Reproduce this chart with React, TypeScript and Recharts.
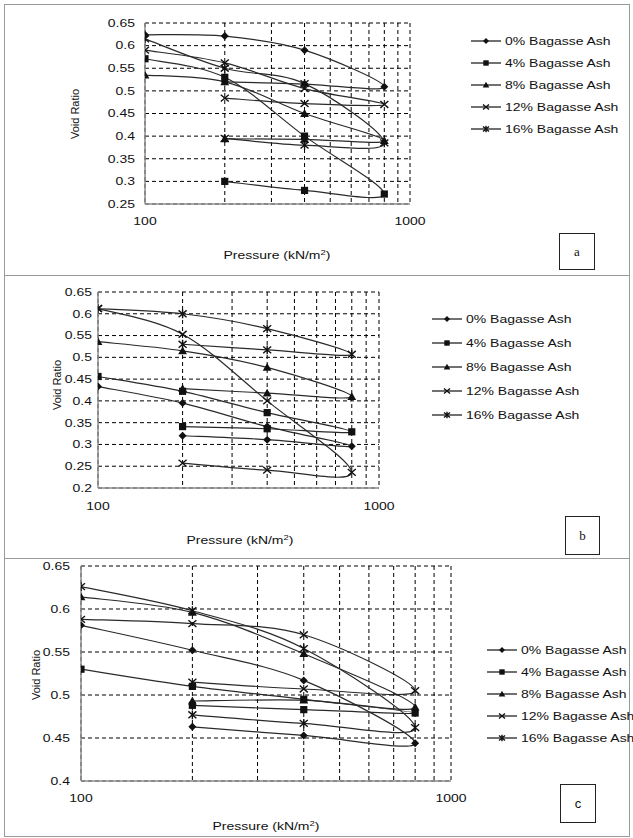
import React from 'react';
import { LineChart, Line, XAxis, YAxis, CartesianGrid, Legend } from 'recharts';

// loading 100 -> 800, then unloading back to 200
const pressure = [100, 200, 400, 800, 400, 200];
const xTicks = [100, 200, 300, 400, 500, 600, 700, 800, 900, 1000];
const xLabelled = [100, 1000];
const seriesNames = ['0% Bagasse Ash', '4% Bagasse Ash', '8% Bagasse Ash', '12% Bagasse Ash', '16% Bagasse Ash'];
const markerKinds = ['diamond', 'square', 'triangle', 'cross', 'star'];

// panel a
const a0 = [0.624, 0.621, 0.59, 0.509, 0.515, 0.52];
const a4 = [0.571, 0.53, 0.4, 0.272, 0.28, 0.3];
const a8 = [0.535, 0.52, 0.45, 0.39, 0.393, 0.394];
const a12 = [0.59, 0.562, 0.505, 0.47, 0.472, 0.484];
const a16 = [0.615, 0.55, 0.516, 0.385, 0.38, 0.395];
const yTicksA = [0.25, 0.3, 0.35, 0.4, 0.45, 0.5, 0.55, 0.6, 0.65];

// panel b
const b0 = [0.433, 0.395, 0.341, 0.296, 0.311, 0.32];
const b4 = [0.456, 0.422, 0.373, 0.329, 0.336, 0.341];
const b8 = [0.536, 0.515, 0.477, 0.41, 0.418, 0.428];
const b12 = [0.612, 0.553, 0.4, 0.236, 0.241, 0.257];
const b16 = [0.612, 0.6, 0.566, 0.507, 0.517, 0.53];
const yTicksB = [0.2, 0.25, 0.3, 0.35, 0.4, 0.45, 0.5, 0.55, 0.6, 0.65];

// panel c
const c0 = [0.581, 0.552, 0.517, 0.444, 0.453, 0.463];
const c4 = [0.53, 0.51, 0.495, 0.479, 0.483, 0.488];
const c8 = [0.614, 0.596, 0.548, 0.486, 0.494, 0.493];
const c12 = [0.588, 0.583, 0.57, 0.505, 0.507, 0.515];
const c16 = [0.626, 0.598, 0.554, 0.462, 0.467, 0.477];
const yTicksC = [0.4, 0.45, 0.5, 0.55, 0.6, 0.65];

const FONT = '"Liberation Sans", Arial, sans-serif';
const INK = '#111';
const STRETCH = 1.27;

const toData = (vals: number[]) => vals.map((e, i) => ({ p: pressure[i], e }));
const fmt = (v: number) => String(+v.toFixed(2));

// Excel-like smoothed line (Catmull-Rom through the points)
function smooth(context: any) {
  let pts: number[][] = [];
  return {
    areaStart() {},
    areaEnd() {},
    lineStart() { pts = []; },
    point(x: number, y: number) { pts.push([+x, +y]); },
    lineEnd() {
      if (!pts.length) return;
      context.moveTo(pts[0][0], pts[0][1]);
      const t = 1 / 6;
      for (let i = 0; i < pts.length - 1; i++) {
        const p0 = pts[i - 1] || pts[i];
        const p1 = pts[i];
        const p2 = pts[i + 1];
        const p3 = pts[i + 2] || p2;
        context.bezierCurveTo(
          p1[0] + (p2[0] - p0[0]) * t, p1[1] + (p2[1] - p0[1]) * t,
          p2[0] - (p3[0] - p1[0]) * t, p2[1] - (p3[1] - p1[1]) * t,
          p2[0], p2[1],
        );
      }
    },
  };
}

function Marker({ kind, cx, cy, s = 1 }: { kind: string; cx: number; cy: number; s?: number }) {
  if (cx == null || cy == null) return null;
  const r = 4 * s;
  switch (kind) {
    case 'diamond':
      return <polygon points={`${cx},${cy - r} ${cx + r},${cy} ${cx},${cy + r} ${cx - r},${cy}`} fill={INK} />;
    case 'square':
      return <rect x={cx - 0.9 * r} y={cy - 0.9 * r} width={1.8 * r} height={1.8 * r} fill={INK} />;
    case 'triangle':
      return <polygon points={`${cx},${cy - 1.1 * r} ${cx + 1.1 * r},${cy + 0.85 * r} ${cx - 1.1 * r},${cy + 0.85 * r}`} fill={INK} />;
    case 'cross':
      return <path d={`M${cx - r},${cy - 0.85 * r}L${cx + r},${cy + 0.85 * r}M${cx - r},${cy + 0.85 * r}L${cx + r},${cy - 0.85 * r}`} stroke={INK} strokeWidth={1.4} />;
    default:
      return (
        <path
          d={`M${cx - r},${cy - 0.85 * r}L${cx + r},${cy + 0.85 * r}M${cx - r},${cy + 0.85 * r}L${cx + r},${cy - 0.85 * r}M${cx},${cy - 1.1 * r}L${cx},${cy + 1.1 * r}`}
          stroke={INK}
          strokeWidth={1.4}
        />
      );
  }
}

function LegendBox({ gap, lineX }: { gap: number; lineX: number }) {
  return (
    <div style={{ fontFamily: FONT, fontSize: 11, color: INK }}>
      {seriesNames.map((n, i) => (
        <div key={n} style={{ height: gap, display: 'flex', alignItems: 'center', whiteSpace: 'nowrap' }}>
          <svg width={lineX + 4} height={12} style={{ overflow: 'visible' }}>
            <line x1={0} y1={6} x2={lineX} y2={6} stroke={INK} strokeWidth={1.2} />
            <Marker kind={markerKinds[i]} cx={lineX / 2} cy={6} s={0.75} />
          </svg>
          <span style={{ display: 'inline-block', transform: `scaleX(${STRETCH})`, transformOrigin: 'left center' }}>{n}</span>
        </div>
      ))}
    </div>
  );
}

type PanelProps = {
  top: number;
  height: number;
  plot: { l: number; t: number; r: number; b: number };
  yTicks: number[];
  series: number[][];
  legend: { x: number; y: number; gap: number };
  box: { x: number; y: number; w: number; h: number; text: string; serif: boolean };
  yLabel: { x: number; y: number };
  xLabel: { x: number; y: number };
  yTickGap: number;
  xTickGap: number;
  id: string;
};

function Panel(p: PanelProps) {
  const W = 633;
  const xAxisH = 30;
  const yMin = p.yTicks[0];
  const yMax = p.yTicks[p.yTicks.length - 1];

  const YTick = ({ x, y, payload }: any) => (
    <g transform={`translate(${x},${y}) scale(${STRETCH},1)`}>
      <text textAnchor="end" dy="0.35em" fontSize={11} fontFamily={FONT} fill={INK}>{fmt(payload.value)}</text>
    </g>
  );
  const XTick = ({ x, y, payload }: any) =>
    xLabelled.includes(payload.value) ? (
      <g transform={`translate(${x},${y}) scale(${STRETCH},1)`}>
        <text textAnchor="middle" dy="0.71em" fontSize={11} fontFamily={FONT} fill={INK}>{payload.value}</text>
      </g>
    ) : <g />;

  return (
    <div style={{ position: 'absolute', left: 0, top: p.top, width: W, height: p.height }}>
      <LineChart
        width={W}
        height={p.height}
        margin={{ top: p.plot.t, right: W - p.plot.r, left: 0, bottom: p.height - p.plot.b - xAxisH }}
      >
        <CartesianGrid stroke="#000" strokeDasharray="4 3" strokeWidth={1} />
        <XAxis
          dataKey="p"
          type="number"
          scale="log"
          domain={[100, 1000]}
          ticks={xTicks}
          allowDataOverflow
          height={xAxisH}
          tickSize={0}
          tickMargin={p.xTickGap}
          axisLine={{ stroke: '#8c8c8c', strokeWidth: 1.5 }}
          tick={<XTick />}
          interval={0}
          label={{
            content: () => (
              <g transform={`translate(${p.xLabel.x},${p.xLabel.y}) scale(${STRETCH},1)`}>
                <text textAnchor="middle" dy="0.35em" fontSize={11} fontFamily={FONT} fill={INK}>
                  Pressure (kN/m<tspan dy={-4} fontSize={7.5}>2</tspan><tspan dy={4}>)</tspan>
                </text>
              </g>
            ),
          }}
        />
        <YAxis
          type="number"
          domain={[yMin, yMax]}
          ticks={p.yTicks}
          allowDataOverflow
          width={p.plot.l}
          tickSize={0}
          tickMargin={p.yTickGap}
          axisLine={{ stroke: '#8c8c8c', strokeWidth: 1.5 }}
          tick={<YTick />}
          interval={0}
          label={{
            content: () => (
              <text
                transform={`translate(${p.yLabel.x},${p.yLabel.y}) rotate(-90)`}
                textAnchor="middle"
                dy="0.35em"
                fontSize={11}
                fontFamily={FONT}
                fill={INK}
              >
                Void Ratio
              </text>
            ),
          }}
        />
        <Legend
          layout="vertical"
          align="center"
          verticalAlign="middle"
          wrapperStyle={{ left: p.legend.x, top: p.legend.y, width: 200 }}
          content={() => <LegendBox gap={p.legend.gap} lineX={30} />}
        />
        {p.series.map((vals, i) => (
          <Line
            key={`${p.id}-${i}`}
            name={seriesNames[i]}
            data={toData(vals)}
            dataKey="e"
            type={smooth as any}
            stroke="#2a2a2a"
            strokeWidth={1.2}
            isAnimationActive={false}
            dot={(d: any) => (
              <g key={`${p.id}-${i}-${d.index}`}>
                <Marker kind={markerKinds[i]} cx={d.cx} cy={d.cy} />
              </g>
            )}
            activeDot={false}
          />
        ))}
      </LineChart>
      <div
        style={{
          position: 'absolute',
          left: p.box.x,
          top: p.box.y,
          width: p.box.w,
          height: p.box.h,
          border: '1.5px solid #222',
          boxSizing: 'border-box',
          display: 'flex',
          alignItems: 'center',
          justifyContent: 'center',
          fontFamily: p.box.serif ? '"Liberation Serif", serif' : FONT,
          fontSize: 13,
          color: INK,
        }}
      >
        {p.box.text}
      </div>
    </div>
  );
}

export default function App() {
  const frame = (top: number, h: number) => ({
    position: 'absolute' as const,
    left: 4,
    top,
    width: 626,
    height: h,
    border: '1.5px solid #9a9a9a',
    boxSizing: 'border-box' as const,
  });
  return (
    <div style={{ position: 'absolute', left: 0, top: 0, width: 633, height: 838, background: '#fff', overflow: 'hidden' }}>
      <div style={frame(4, 272)} />
      <div style={frame(275, 284)} />
      <div style={frame(558, 279)} />
      <Panel
        id="a"
        top={0}
        height={276}
        plot={{ l: 145, t: 23, r: 410, b: 204 }}
        yTicks={yTicksA}
        series={[a0, a4, a8, a12, a16]}
        legend={{ x: 471, y: 30, gap: 22 }}
        box={{ x: 559, y: 233, w: 36, h: 37, text: 'a', serif: true }}
        yLabel={{ x: 75, y: 114 }}
        xLabel={{ x: 277, y: 255 }}
        yTickGap={10}
        xTickGap={13}
      />
      <Panel
        id="b"
        top={276}
        height={282}
        plot={{ l: 98, t: 16, r: 379, b: 212 }}
        yTicks={yTicksB}
        series={[b0, b4, b8, b12, b16]}
        legend={{ x: 432, y: 31, gap: 24 }}
        box={{ x: 565, y: 240, w: 35, h: 39, text: 'b', serif: true }}
        yLabel={{ x: 57, y: 109 }}
        xLabel={{ x: 240, y: 264 }}
        yTickGap={6}
        xTickGap={14}
      />
      <Panel
        id="c"
        top={558}
        height={278}
        plot={{ l: 81, t: 8, r: 451, b: 223 }}
        yTicks={yTicksC}
        series={[c0, c4, c8, c12, c16]}
        legend={{ x: 487, y: 81, gap: 22 }}
        box={{ x: 560, y: 226, w: 36, h: 39, text: 'c', serif: false }}
        yLabel={{ x: 36, y: 117 }}
        xLabel={{ x: 266, y: 268 }}
        yTickGap={11}
        xTickGap={13}
      />
    </div>
  );
}
